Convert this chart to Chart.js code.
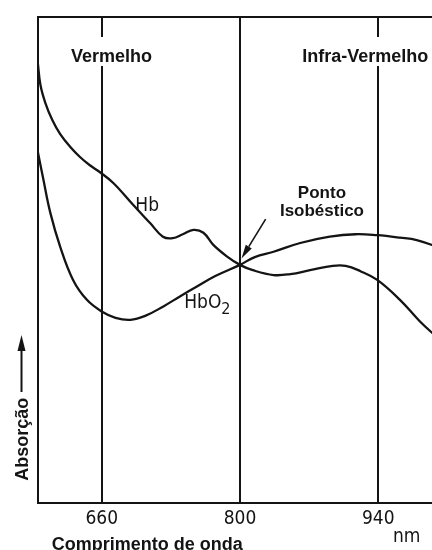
<!DOCTYPE html>
<html>
<head>
<meta charset="utf-8">
<script src="https://cdn.jsdelivr.net/npm/chart.js@4.4.1/dist/chart.umd.min.js"></script>
<style>
  html, body { margin: 0; padding: 0; background: #fff; overflow: hidden; width: 432px; height: 550px; }
  #wrap { width: 450px; height: 550px; }
  canvas { display: block; }
</style>
</head>
<body>
<div id="wrap"><canvas id="c" width="450" height="550"></canvas></div>
<script>
// Absorption spectra of deoxy- (Hb) and oxy-haemoglobin (HbO2), relative units
const hbWavelength   = [595, 598, 603, 610, 618, 628, 638, 648, 658, 672, 692, 709, 722, 732, 742, 753, 763, 773, 787, 800, 813, 834, 851, 871, 894, 907, 922, 939, 962, 982, 1000];
const hbAbsorption   = [91.2, 86.0, 82.3, 78.8, 75.9, 73.3, 71.2, 69.5, 68.1, 65.8, 61.3, 57.6, 54.8, 54.5, 55.3, 56.2, 55.6, 53.1, 50.7, 49.0, 47.9, 46.9, 47.1, 47.9, 48.8, 48.8, 47.7, 45.9, 41.8, 37.4, 34.0];
const hbo2Wavelength = [595, 601, 608, 618, 631, 645, 660, 674, 689, 704, 722, 740, 756, 775, 800, 815, 834, 861, 891, 917, 939, 962, 979, 1000];
const hbo2Absorption = [72.6, 66.5, 59.7, 52.7, 45.9, 41.8, 39.4, 38.1, 37.7, 38.5, 40.4, 42.6, 44.5, 46.7, 49.0, 50.6, 51.7, 53.5, 54.8, 55.3, 55.1, 54.6, 54.1, 52.7];
const tickWavelengths = [660, 800, 940];
const isosbesticNm = 800;
const isosbesticValue = 49.0;

const INK = '#141414';
const BOLD = "bold 18px 'Liberation Sans', Arial, sans-serif";
const NARROW = "'Liberation Sans Narrow', 'DejaVu Sans Condensed', 'Liberation Sans', sans-serif";

const toPoints = (xs, ys) => xs.map((x, i) => ({ x, y: ys[i] }));

function arrow(ctx, x0, y0, x1, y1, len, half, width) {
  const ang = Math.atan2(y1 - y0, x1 - x0);
  const bx = x1 - len * Math.cos(ang), by = y1 - len * Math.sin(ang);
  ctx.lineWidth = width;
  ctx.beginPath(); ctx.moveTo(x0, y0); ctx.lineTo(bx, by); ctx.stroke();
  ctx.beginPath();
  ctx.moveTo(x1, y1);
  ctx.lineTo(bx + half * Math.sin(ang), by - half * Math.cos(ang));
  ctx.lineTo(bx - half * Math.sin(ang), by + half * Math.cos(ang));
  ctx.closePath(); ctx.fill();
}

const annotate = {
  id: 'annotate',
  beforeDatasetsDraw(chart) {
    // break the 660 and 940 nm lines where the band names sit
    const { ctx, chartArea: a, scales: { x } } = chart;
    ctx.save();
    ctx.fillStyle = '#fff';
    [660, 940].forEach(v => {
      const px = x.getPixelForValue(v);
      ctx.fillRect(px - 4, a.top + 20, 8, 29);
    });
    ctx.restore();
  },
  afterDatasetsDraw(chart) {
    const { ctx, chartArea: a, scales: { x, y } } = chart;
    ctx.save();
    ctx.fillStyle = INK;
    ctx.strokeStyle = INK;

    // spectral bands
    ctx.font = BOLD;
    ctx.textBaseline = 'alphabetic';
    ctx.textAlign = 'center';
    ctx.fillText('Vermelho', x.getPixelForValue(670), a.top + 44.5);
    ctx.textAlign = 'left';
    ctx.fillText('Infra-Vermelho', x.getPixelForValue(863), a.top + 44.5);

    // curve names
    ctx.font = '19px ' + NARROW;
    ctx.fillText('Hb', x.getPixelForValue(694), y.getPixelForValue(60.0));
    const hx = x.getPixelForValue(743.5), hy = y.getPixelForValue(40.1);
    ctx.fillText('HbO', hx, hy);
    const w = ctx.measureText('HbO').width;
    ctx.font = '16px ' + NARROW;
    ctx.fillText('2', hx + w, hy + 6);

    // isosbestic point
    ctx.font = "bold 17px 'Liberation Sans', Arial, sans-serif";
    ctx.textAlign = 'center';
    ctx.fillText('Ponto', x.getPixelForValue(883), y.getPixelForValue(62.8));
    ctx.fillText('Isobéstico', x.getPixelForValue(883), y.getPixelForValue(59.1));
    arrow(ctx, x.getPixelForValue(826), y.getPixelForValue(58.4),
          x.getPixelForValue(isosbesticNm + 1.5), y.getPixelForValue(isosbesticValue + 1.3), 14, 3.5, 1.6);

    // axis titles
    ctx.font = BOLD;
    ctx.textAlign = 'left';
    ctx.fillText('Comprimento de onda', 51.7, a.bottom + 46.5);
    ctx.font = '19px ' + NARROW;
    ctx.fillText('nm', 393, a.bottom + 38.5);

    ctx.save();
    ctx.translate(28, 439.2);
    ctx.rotate(-Math.PI / 2);
    ctx.font = BOLD;
    ctx.textAlign = 'center';
    ctx.fillText('Absorção', 0, 0);
    ctx.restore();
    arrow(ctx, 21.5, 392, 21.5, 335, 16, 4, 2);

    ctx.restore();
  }
};

const lineStyle = {
  borderColor: INK,
  borderWidth: 2.3,
  pointRadius: 0,
  fill: false,
  tension: 0.4
};

new Chart(document.getElementById('c'), {
  type: 'line',
  data: {
    datasets: [
      Object.assign({ label: 'Hb', data: toPoints(hbWavelength, hbAbsorption) }, lineStyle),
      Object.assign({ label: 'HbO2', data: toPoints(hbo2Wavelength, hbo2Absorption) }, lineStyle)
    ]
  },
  options: {
    responsive: false,
    animation: false,
    layout: { padding: { left: 37.5, right: 12.5, top: 17, bottom: 0 } },
    plugins: { legend: { display: false }, tooltip: { enabled: false } },
    scales: {
      x: {
        type: 'linear',
        min: 595,
        max: 1000,
        afterBuildTicks: s => { s.ticks = tickWavelengths.map(v => ({ value: v })); },
        afterFit: s => { s.height = 47; },
        grid: { color: INK, lineWidth: 2, drawTicks: false },
        border: { color: INK, width: 2 },
        ticks: { color: INK, padding: 5, maxRotation: 0, autoSkip: false, font: { family: NARROW, size: 19 } }
      },
      y: {
        min: 0,
        max: 100,
        afterBuildTicks: s => { s.ticks = [{ value: 100 }]; },
        afterFit: s => { s.width = 0; },
        grid: { color: INK, lineWidth: 2, drawTicks: false },
        border: { color: INK, width: 2 },
        ticks: { display: false }
      }
    }
  },
  plugins: [annotate]
});
</script>
</body>
</html>
